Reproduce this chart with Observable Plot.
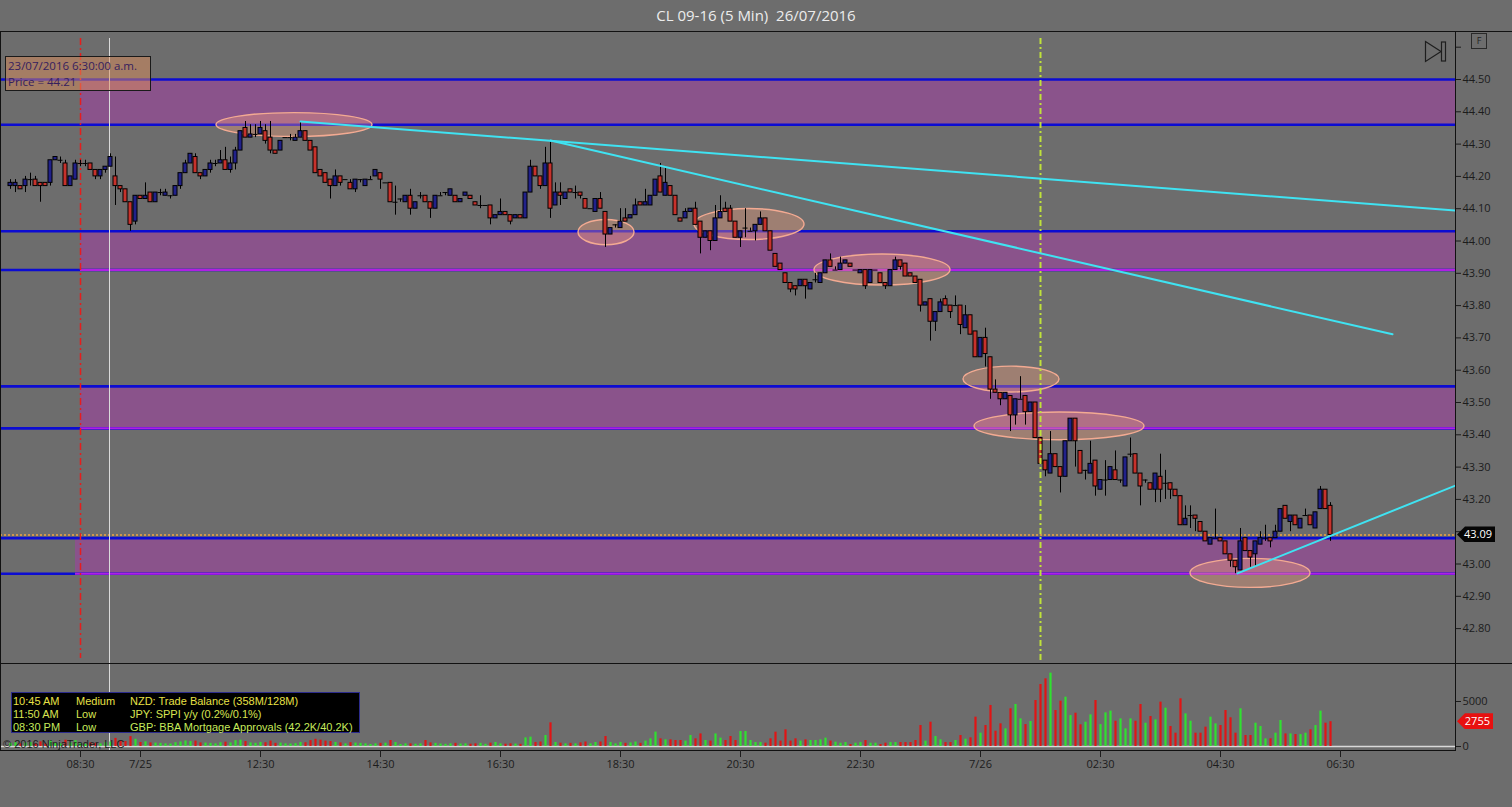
<!DOCTYPE html>
<html><head><meta charset="utf-8">
<script src="https://cdn.jsdelivr.net/npm/d3@7"></script>
<script src="https://cdn.jsdelivr.net/npm/@observablehq/plot@0.6"></script>
<style>
html,body{margin:0;padding:0;background:#6d6d6d;}
#root{position:relative;width:1512px;height:807px;overflow:hidden;background:#6d6d6d;font-family:'Open Sans',sans-serif;}
#root svg{position:absolute;left:0;}
.ov{position:absolute;}
</style></head><body><div id="root"></div>
<script>
// ---------- data ----------
const opens = [
44.17,44.17,44.17,44.17,44.19,44.19,44.18,44.18,44.18,44.25,
44.25,44.24,44.17,44.19,44.24,44.24,44.24,44.22,44.20,44.22,
44.23,44.20,44.17,44.16,44.12,44.06,44.14,44.13,44.15,44.12,
44.15,44.14,44.14,44.14,44.17,44.21,44.24,44.26,44.21,44.20,
44.22,44.24,44.24,44.25,44.22,44.24,44.28,44.35,44.32,44.33,
44.33,44.34,44.32,44.28,44.28,44.32,44.32,44.31,44.32,44.34,
44.31,44.29,44.22,44.21,44.19,44.17,44.20,44.19,44.18,44.16,
44.19,44.17,44.19,44.20,44.21,44.18,44.18,44.12,44.13,44.12,
44.14,44.10,44.14,44.14,44.12,44.10,44.14,44.15,44.14,44.14,
44.12,44.14,44.14,44.12,44.11,44.11,44.11,44.07,44.08,44.09,
44.08,44.07,44.08,44.07,44.15,44.23,44.20,44.17,44.24,44.11,
44.15,44.13,44.16,44.15,44.15,44.13,44.10,44.09,44.13,44.09,
44.02,44.05,44.04,44.07,44.07,44.08,44.12,44.11,44.11,44.14,
44.20,44.14,44.17,44.14,44.07,44.07,44.09,44.10,44.06,44.01,
44.03,44.00,44.07,44.10,44.10,44.06,44.01,44.04,44.03,44.03,
44.05,44.07,44.03,43.96,43.93,43.90,43.87,43.86,43.86,43.88,
43.85,43.88,43.87,43.90,43.94,43.91,43.91,43.93,43.93,43.91,
43.90,43.91,43.87,43.91,43.90,43.87,43.86,43.91,43.94,43.93,
43.90,43.89,43.88,43.80,43.82,43.75,43.78,43.82,43.80,43.80,
43.80,43.73,43.77,43.72,43.64,43.70,43.64,43.54,43.53,43.51,
43.52,43.46,43.51,43.52,43.47,43.50,43.39,43.32,43.28,43.34,
43.30,43.27,43.38,43.45,43.35,43.29,43.28,43.32,43.23,43.26,
43.26,43.29,43.26,43.24,43.34,43.34,43.28,43.26,43.25,43.23,
43.27,43.25,43.25,43.23,43.21,43.12,43.15,43.15,43.13,43.10,
43.06,43.08,43.08,43.07,43.03,43.01,42.98,43.08,43.04,43.03,
43.06,43.08,43.08,43.08,43.10,43.18,43.13,43.15,43.11,43.15,
43.15,43.11,43.17,43.23,43.18];
const highs = [
44.19,44.19,44.17,44.20,44.21,44.20,44.18,44.18,44.25,44.26,
44.26,44.25,44.20,44.25,44.25,44.25,44.24,44.22,44.22,44.23,
44.27,44.26,44.17,44.16,44.12,44.14,44.14,44.18,44.15,44.15,
44.16,44.16,44.14,44.17,44.21,44.25,44.27,44.27,44.21,44.22,
44.25,44.25,44.28,44.29,44.26,44.29,44.34,44.37,44.36,44.36,
44.37,44.36,44.37,44.28,44.31,44.32,44.33,44.33,44.37,44.34,
44.31,44.29,44.22,44.21,44.19,44.22,44.20,44.19,44.19,44.19,
44.19,44.19,44.20,44.22,44.21,44.18,44.18,44.17,44.13,44.14,
44.16,44.12,44.15,44.14,44.12,44.14,44.15,44.15,44.16,44.14,
44.13,44.15,44.14,44.12,44.14,44.11,44.11,44.08,44.13,44.09,
44.08,44.08,44.08,44.15,44.25,44.23,44.20,44.29,44.31,44.18,
44.18,44.15,44.16,44.17,44.15,44.13,44.10,44.13,44.15,44.09,
44.04,44.05,44.10,44.10,44.08,44.13,44.12,44.16,44.14,44.19,
44.24,44.23,44.17,44.14,44.07,44.10,44.10,44.12,44.06,44.03,
44.03,44.11,44.14,44.12,44.11,44.06,44.03,44.10,44.04,44.05,
44.09,44.07,44.03,43.96,43.93,43.90,43.87,43.86,43.88,43.88,
43.87,43.90,43.90,43.94,43.96,43.92,43.95,43.94,43.93,43.91,
43.91,43.91,43.91,43.91,43.90,43.87,43.91,43.95,43.94,43.93,
43.90,43.89,43.88,43.81,43.82,43.78,43.82,43.83,43.80,43.83,
43.80,43.80,43.77,43.72,43.70,43.73,43.64,43.57,43.53,43.53,
43.52,43.51,43.58,43.52,43.50,43.50,43.39,43.32,43.41,43.34,
43.30,43.38,43.45,43.45,43.35,43.29,43.38,43.32,43.26,43.32,
43.30,43.35,43.26,43.33,43.39,43.34,43.28,43.26,43.25,43.28,
43.34,43.29,43.25,43.23,43.21,43.18,43.18,43.15,43.13,43.10,
43.08,43.17,43.08,43.07,43.03,43.01,43.11,43.08,43.04,43.07,
43.10,43.12,43.08,43.12,43.17,43.18,43.15,43.15,43.14,43.17,
43.15,43.16,43.24,43.23,43.19];
const lows = [
44.16,44.15,44.16,44.15,44.17,44.17,44.12,44.17,44.17,44.25,
44.24,44.17,44.17,44.19,44.23,44.23,44.22,44.19,44.19,44.21,
44.23,44.11,44.15,44.12,44.03,44.05,44.13,44.13,44.12,44.12,
44.14,44.14,44.13,44.14,44.16,44.21,44.24,44.21,44.19,44.20,
44.21,44.23,44.24,44.22,44.21,44.22,44.28,44.32,44.32,44.32,
44.33,44.30,44.27,44.27,44.28,44.32,44.31,44.31,44.32,44.31,
44.28,44.21,44.20,44.18,44.13,44.17,44.17,44.19,44.16,44.15,
44.18,44.17,44.19,44.20,44.16,44.18,44.12,44.08,44.12,44.12,
44.08,44.10,44.13,44.12,44.07,44.10,44.14,44.14,44.14,44.12,
44.12,44.14,44.13,44.11,44.10,44.11,44.05,44.07,44.08,44.08,
44.05,44.07,44.07,44.07,44.15,44.20,44.16,44.17,44.07,44.11,
44.11,44.13,44.15,44.13,44.13,44.10,44.10,44.09,44.10,43.98,
44.02,44.04,44.04,44.06,44.07,44.08,44.11,44.11,44.11,44.14,
44.15,44.14,44.14,44.08,44.06,44.07,44.09,44.05,43.96,44.01,
43.97,44.00,44.07,44.09,44.06,44.01,43.98,44.01,44.03,44.00,
44.05,44.03,43.97,43.92,43.91,43.87,43.84,43.83,43.86,43.82,
43.85,43.87,43.87,43.90,43.92,43.91,43.91,43.93,43.92,43.91,
43.90,43.85,43.87,43.91,43.87,43.85,43.86,43.91,43.91,43.89,
43.89,43.87,43.78,43.80,43.69,43.72,43.78,43.80,43.76,43.80,
43.71,43.73,43.71,43.64,43.64,43.61,43.51,43.53,43.49,43.51,
43.41,43.43,43.51,43.43,43.47,43.39,43.31,43.27,43.28,43.30,
43.22,43.27,43.38,43.30,43.28,43.26,43.28,43.21,43.23,43.21,
43.26,43.26,43.25,43.24,43.33,43.28,43.18,43.25,43.23,43.19,
43.19,43.20,43.20,43.21,43.12,43.12,43.11,43.10,43.10,43.07,
43.06,43.08,43.07,43.03,42.99,42.97,42.98,43.04,42.99,42.99,
43.06,43.07,43.05,43.08,43.10,43.14,43.10,43.12,43.11,43.15,
43.12,43.11,43.17,43.17,43.07];
const closes = [
44.18,44.18,44.16,44.19,44.19,44.17,44.17,44.17,44.25,44.26,
44.25,44.17,44.20,44.24,44.24,44.24,44.22,44.20,44.22,44.23,
44.26,44.17,44.16,44.12,44.05,44.14,44.13,44.14,44.12,44.15,
44.15,44.15,44.14,44.17,44.21,44.24,44.27,44.21,44.20,44.22,
44.24,44.24,44.25,44.22,44.24,44.28,44.34,44.32,44.33,44.33,
44.35,44.31,44.28,44.27,44.31,44.32,44.32,44.32,44.34,44.31,
44.28,44.21,44.20,44.18,44.17,44.20,44.18,44.19,44.16,44.19,
44.19,44.19,44.19,44.22,44.19,44.18,44.12,44.12,44.13,44.14,
44.10,44.12,44.14,44.12,44.10,44.14,44.14,44.15,44.16,44.12,
44.13,44.15,44.13,44.11,44.11,44.11,44.07,44.08,44.09,44.08,
44.06,44.08,44.07,44.15,44.23,44.20,44.17,44.24,44.10,44.15,
44.14,44.15,44.15,44.15,44.14,44.10,44.10,44.13,44.10,44.02,
44.04,44.05,44.06,44.06,44.08,44.11,44.11,44.12,44.14,44.19,
44.15,44.18,44.14,44.08,44.06,44.09,44.10,44.05,44.01,44.03,
44.00,44.07,44.09,44.09,44.06,44.01,44.03,44.04,44.03,44.05,
44.07,44.03,43.97,43.92,43.91,43.87,43.85,43.85,43.88,43.86,
43.87,43.88,43.90,43.94,43.92,43.91,43.93,43.94,43.92,43.91,
43.91,43.86,43.91,43.91,43.87,43.86,43.91,43.94,43.92,43.89,
43.89,43.87,43.80,43.81,43.75,43.78,43.81,43.80,43.78,43.80,
43.74,43.77,43.71,43.64,43.70,43.65,43.54,43.53,43.51,43.53,
43.46,43.51,43.51,43.47,43.50,43.39,43.31,43.29,43.34,43.30,
43.27,43.38,43.45,43.38,43.28,43.29,43.31,43.24,43.26,43.26,
43.30,43.26,43.26,43.33,43.34,43.28,43.24,43.26,43.23,43.28,
43.23,43.25,43.23,43.21,43.12,43.14,43.15,43.14,43.10,43.07,
43.08,43.08,43.07,43.03,43.01,42.99,43.07,43.04,43.02,43.07,
43.08,43.08,43.07,43.10,43.17,43.14,43.15,43.12,43.14,43.15,
43.12,43.16,43.23,43.17,43.09];
const volumes = [
350,420,300,380,450,300,520,280,600,350,
300,700,400,650,300,250,400,350,300,420,
500,900,600,550,1100,800,450,520,400,380,
350,300,280,420,500,620,550,600,400,380,
350,300,420,480,400,650,700,550,400,350,
450,420,600,350,380,300,280,320,450,420,
650,800,700,600,550,450,400,300,420,380,
350,300,220,300,350,370,670,440,220,300,
300,260,300,670,400,350,280,250,300,350,
280,300,260,300,350,250,370,450,300,260,
300,280,250,960,1040,450,500,1220,2630,450,
370,300,350,300,400,500,300,450,500,1110,
450,300,450,350,400,500,350,600,850,1600,
850,740,740,670,670,600,1220,850,1400,670,
600,1400,930,670,1110,670,1670,1670,670,440,
440,370,850,1590,600,1850,600,850,600,740,
670,670,740,930,600,480,370,440,220,370,
440,670,370,370,220,370,440,440,440,440,
440,670,2330,600,2700,1110,740,440,440,670,
1220,810,960,3260,1480,2330,4560,1700,2520,1960,
4190,4670,3070,2440,2780,5110,6890,7520,8150,4000,
5040,5480,3440,3700,2410,2700,3520,5110,2440,3740,
3930,2810,3070,1960,3070,2810,4670,2590,3330,2960,
4930,4260,2220,1480,5300,3630,2810,1480,1480,2150,
3260,2520,2330,4000,3190,1480,4190,1220,1220,2590,
2220,850,850,1480,2890,1400,1400,1330,1330,1480,
1850,2330,3930,2590,2755];

// time axis (bar index -> label)
const timeTickIdx = [14,26,50,74,98,122,146,170,194,218,242,266];
const timeTickLabels = ["08:30","7/25","12:30","14:30","16:30","18:30","20:30","22:30","7/26","02:30","04:30","06:30"];
const priceTicks = [42.8,42.9,43.0,43.1,43.2,43.3,43.4,43.5,43.6,43.7,43.8,43.9,44.0,44.1,44.2,44.3,44.4,44.5,44.6];
const hiddenPriceLabels = [43.1,44.6];
const volumeTicks = [0,5000];

// support / resistance zones
const zoneHi = [44.50,44.03,43.55,43.08];
const zoneLo = [44.36,43.91,43.42,42.97];
const zoneStart = [14,14,14,13];
const levelPrices = [44.50,44.36,44.03,43.91,43.55,43.42,43.08,42.97];
const zoneBottomEdges = [43.91,43.42,42.97];
const zoneBottomStart = [14,14,13];

// highlighted ellipses (centre bar, centre price, radius in bars, radius in price)
const ellCx = [56.8,119.2,147.8,174.4,200.2,209.8,248];
const ellCy = [44.359,44.026,44.051,43.91,43.571,43.426,42.971];
const ellRx = [15.6,5.6,11,13.6,9.6,17,12];
const ellRy = [0.037,0.039,0.048,0.048,0.040,0.043,0.045];

// trend lines
const trendId = ["A","A","B","B","C","C"];
const trendIdx = [58,289,108,276.4,245.4,289];
const trendPrice = [44.37,44.094,44.311,43.711,42.971,43.243];

// vertical markers
const redLineIdx = [14];
const cursorLineIdx = [19.8];
const sessionLineIdx = [206];
const lastPrice = 43.09;
const lastVolume = 2755;

// ---------- build ----------
const UP = "#21218a", DOWN = "#c7322c";
const VUP = "#2fe12f", VDOWN = "#e21414";
const bars = opens.map((o, i) => ({i, o, h: highs[i], l: lows[i], c: closes[i], v: volumes[i]}));
const zones = zoneHi.map((hi, k) => ({hi, lo: zoneLo[k], start: zoneStart[k]}));
const edges = zoneBottomEdges.map((p, k) => ({p, start: zoneBottomStart[k]}));
const trends = trendId.map((id, k) => ({id, i: trendIdx[k], p: trendPrice[k]}));
const tickLabel = new Map(timeTickIdx.map((d, k) => [d, timeTickLabels[k]]));
const X_DOMAIN = [-2, 289];
const pxPerUnit = 323;
const Y_DOMAIN = [44.50 - (663 - 79) / pxPerUnit, 44.50 + (79 - 31) / pxPerUnit];

const ellipseMark = (index, scales) => {
  const g = d3.create("svg:g");
  ellCx.forEach((cx, k) => {
    const x0 = scales.x(cx), y0 = scales.y(ellCy[k]);
    const rx = Math.abs(scales.x(cx + ellRx[k]) - x0);
    const ry = Math.abs(scales.y(ellCy[k] + ellRy[k]) - y0);
    g.append("ellipse").attr("cx", x0).attr("cy", y0).attr("rx", rx).attr("ry", ry)
      .attr("fill", "#f6a07c").attr("fill-opacity", 0.36)
      .attr("stroke", "#f3aa92").attr("stroke-width", 1.4);
  });
  return g.node();
};

const common = {
  width: 1512, marginLeft: 0, marginRight: 57,
  style: {background: "none", color: "#1c1c1c", fontFamily: "'Open Sans',sans-serif", fontSize: "11px", overflow: "visible"}
};

const pricePlot = Plot.plot({
  ...common,
  height: 632, marginTop: 0, marginBottom: 0,
  x: {domain: X_DOMAIN, axis: null, label: null},
  y: {domain: Y_DOMAIN, label: null},
  color: {type: "identity"},
  marks: [
    Plot.rect(zones, {x1: "start", x2: 289, y1: "lo", y2: "hi", fill: "#8a538b"}),
    Plot.ruleY(levelPrices, {stroke: "#0c0cd2", strokeWidth: 2.6}),
    Plot.ruleY(edges, {y: "p", x1: "start", x2: 289, stroke: "#b01fe4", strokeWidth: 2}),
    ellipseMark,
    Plot.ruleY([lastPrice], {stroke: "#f2a640", strokeWidth: 1.6, strokeDasharray: "2,2"}),
    Plot.ruleX(redLineIdx, {stroke: "#e61d1d", strokeWidth: 1.5, strokeDasharray: "7,3,2,3", insetTop: 7, insetBottom: 5}),
    Plot.ruleX(cursorLineIdx, {stroke: "#dadada", strokeWidth: 1, insetTop: 7}),
    Plot.ruleX(bars, {x: "i", y1: "l", y2: "h", stroke: "#000", strokeWidth: 1}),
    Plot.rect(bars.filter(d => d.o !== d.c), {x1: d => d.i - 0.4, x2: d => d.i + 0.4, y1: "o", y2: "c",
      fill: d => d.c > d.o ? UP : DOWN, stroke: "#000", strokeWidth: 1}),
    Plot.ruleY(bars.filter(d => d.o === d.c), {y: "o", x1: d => d.i - 0.5, x2: d => d.i + 0.5, stroke: "#000", strokeWidth: 1}),
    Plot.ruleX(sessionLineIdx, {stroke: "#bfe23a", strokeWidth: 2, strokeDasharray: "6,3,2,3", insetTop: 7, insetBottom: 3}),
    Plot.line(trends, {x: "i", y: "p", z: "id", stroke: "#3fe3f2", strokeWidth: 2, clip: true}),
    Plot.frame({stroke: "#111", strokeWidth: 1}),
    Plot.axisY(priceTicks, {anchor: "right", tickSize: 5, tickPadding: 2, label: null,
      tickFormat: d => hiddenPriceLabels.some(h => Math.abs(h - d) < 1e-6) ? "" : d.toFixed(2)})
  ]
});

const volPlot = Plot.plot({
  ...common,
  height: 144, marginTop: 0, marginBottom: 57,
  x: {domain: X_DOMAIN, label: null},
  y: {domain: [-4000 / 9, 83000 / 9], label: null},
  color: {type: "identity"},
  marks: [
    Plot.ruleY([0], {stroke: "#d9d9d9", strokeWidth: 1.5}),
    Plot.ruleX(cursorLineIdx, {stroke: "#dadada", strokeWidth: 1}),
    Plot.ruleX(bars, {x: "i", y1: 0, y2: "v", stroke: d => d.c >= d.o ? VUP : VDOWN, strokeWidth: 2.2}),
    Plot.frame({stroke: "#111", strokeWidth: 1}),
    Plot.axisY(volumeTicks, {anchor: "right", tickSize: 5, tickPadding: 2, label: null, tickFormat: d => String(d)}),
    Plot.axisX(timeTickIdx, {anchor: "bottom", tickSize: 7, tickPadding: 3, label: null, tickFormat: d => tickLabel.get(d)})
  ]
});

const root = document.getElementById("root");
// title
const title = document.createElement("div");
title.className = "ov";
title.style.cssText = "left:0;top:0;width:1512px;height:31px;line-height:31px;text-align:center;color:#ececec;font-size:15px;white-space:pre;";
title.textContent = "CL 09-16 (5 Min)  26/07/2016";
root.appendChild(title);

pricePlot.style.top = "31px";
volPlot.style.top = "663px";
root.appendChild(pricePlot);
root.appendChild(volPlot);

// border extensions above the right axis
for (const t of [31, 663]) {
  const l = document.createElement("div");
  l.className = "ov";
  l.style.cssText = `left:1455px;top:${t}px;width:57px;height:1px;background:#111;`;
  root.appendChild(l);
}

// last price marker
const yP = 31 + pricePlot.scale("y").apply(lastPrice);
const pl = document.createElement("div");
pl.className = "ov";
pl.style.cssText = `left:1457px;top:${yP - 8}px;width:38px;height:16px;background:#050505;color:#fff;font-size:11px;line-height:16px;clip-path:polygon(0 50%,8px 0,100% 0,100% 100%,8px 100%);text-align:right;box-sizing:border-box;padding-right:3px;`;
pl.textContent = lastPrice.toFixed(2);
root.appendChild(pl);

// last volume marker
const yV = 663 + volPlot.scale("y").apply(lastVolume);
const vl = document.createElement("div");
vl.className = "ov";
vl.style.cssText = `left:1457px;top:${yV - 8}px;width:36px;height:16px;background:#e81010;color:#fff;font-size:11px;line-height:16px;clip-path:polygon(0 50%,8px 0,100% 0,100% 100%,8px 100%);text-align:right;box-sizing:border-box;padding-right:3px;`;
vl.textContent = String(lastVolume);
root.appendChild(vl);

// F box and scroll icon
const fbox = document.createElement("div");
fbox.className = "ov";
fbox.style.cssText = "left:1471px;top:33px;width:14px;height:14px;border:1px solid #2a2a2a;font-size:9px;line-height:14px;text-align:center;color:#222;";
fbox.textContent = "F";
root.appendChild(fbox);
const icon = document.createElement("div");
icon.className = "ov";
icon.style.cssText = "left:1424px;top:40px;width:24px;height:24px;";
icon.innerHTML = '<svg width="24" height="24" style="position:static"><path d="M1.5 1.5 L17 11.5 L1.5 21.5 Z" fill="none" stroke="#1e1e1e" stroke-width="1.2"/><rect x="17.5" y="2" width="4" height="19" fill="none" stroke="#1e1e1e" stroke-width="1.2"/></svg>';
root.appendChild(icon);

// data tooltip
const tip = document.createElement("div");
tip.className = "ov";
tip.style.cssText = "left:5px;top:56px;width:146px;height:35px;box-sizing:border-box;border:1px solid #1a1a1a;background:rgba(222,142,92,0.5);color:#35205e;font-size:11.5px;line-height:16px;padding:1px 0 0 2px;white-space:pre;";
tip.innerHTML = "23/07/2016 6:30:00 a.m.<br>Price = 44.21";
root.appendChild(tip);

// economic events box
const ev = document.createElement("div");
ev.className = "ov";
ev.style.cssText = "left:11px;top:692px;width:349px;height:41px;box-sizing:border-box;border:1px solid #2b2b8c;background:#000;font-family:'Liberation Sans',Arial,sans-serif;font-size:11px;";
const evTime = ["10:45 AM","11:50 AM","08:30 PM"];
const evImp = ["Medium","Low","Low"];
const evText = ["NZD: Trade Balance (358M/128M)","JPY: SPPI y/y (0.2%/0.1%)","GBP: BBA Mortgage Approvals (42.2K/40.2K)"];
const evColor = ["#e8e046","#d8e452","#c6ea5c"];
evTime.forEach((t, k) => {
  const row = document.createElement("div");
  row.style.cssText = `position:absolute;left:1px;top:${2 + k * 13}px;height:13px;line-height:13px;color:${evColor[k]};white-space:pre;width:346px;`;
  row.innerHTML = `<span style="position:absolute;left:0">${t}</span><span style="position:absolute;left:63px">${evImp[k]}</span><span style="position:absolute;left:117px">${evText[k]}</span>`;
  ev.appendChild(row);
});
root.appendChild(ev);

const copy = document.createElement("div");
copy.className = "ov";
copy.style.cssText = "left:3px;top:738px;font-family:'Liberation Sans',Arial,sans-serif;font-size:11px;color:#1e1e1e;white-space:pre;";
copy.textContent = "© 2016 NinjaTrader, LLC";
root.appendChild(copy);
</script>
</body></html>
